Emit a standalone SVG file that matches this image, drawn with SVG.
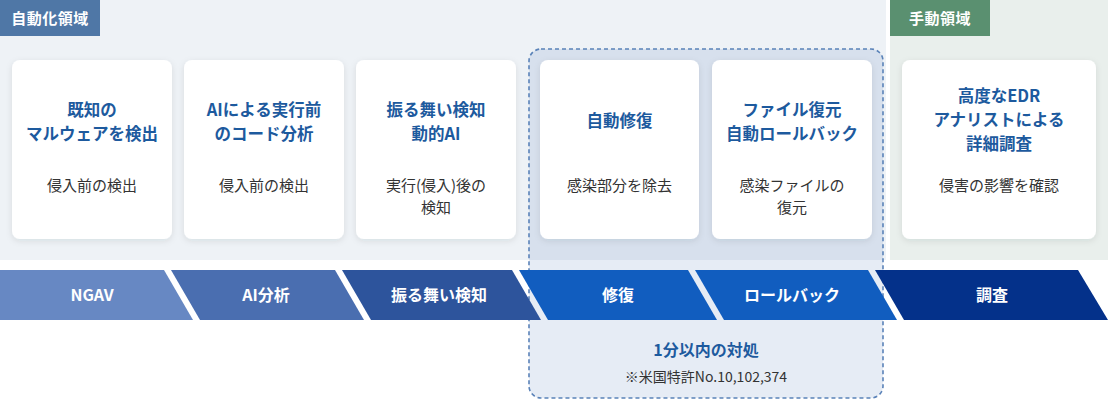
<svg xmlns="http://www.w3.org/2000/svg" width="1108" height="400" viewBox="0 0 1108 400">
<defs>
<filter id="sh" x="-10%" y="-10%" width="120%" height="125%">
<feDropShadow dx="0" dy="2" stdDeviation="3" flood-color="#1a2a40" flood-opacity="0.10"/>
</filter>
<style>
text{font-family:"Noto Sans CJK JP","Noto Sans",sans-serif;text-anchor:middle}
.card{fill:#ffffff;filter:url(#sh)}
.ttl{font-size:16.5px;font-weight:700;fill:#1d5a9e}
.sub{font-size:15px;font-weight:400;fill:#333333}
.bar{font-size:16px;font-weight:700;fill:#ffffff}
.lbl{font-size:15px;font-weight:700;fill:#ffffff;letter-spacing:0.5px}
</style>
</defs>
<rect width="1108" height="400" fill="#ffffff"/>
<g id="auto-area">
<rect x="0" y="0" width="886" height="260" fill="#eef2f6"/>
<rect x="0" y="0" width="100" height="36" fill="#4f77a6"/>
<text class="lbl" x="50" y="24">自動化領域</text>
</g>
<g id="manual-area">
<rect x="890" y="0" width="218" height="260" fill="#e9efec"/>
<rect x="890" y="0" width="100" height="36" fill="#5a9070"/>
<text class="lbl" x="940" y="24">手動領域</text>
</g>
<g id="auto-response-box">
<rect x="529" y="49" width="354" height="349" rx="12" fill="#2f64aa" fill-opacity="0.12" stroke="#5a82b8" stroke-width="1.6" stroke-dasharray="4 3"/>
<text class="ttl" x="706" y="356" style="font-size:16px">1分以内の対処</text>
<text class="sub" x="706" y="382" style="font-size:14px">※米国特許No.10,102,374</text>
</g>
<g id="card-ngav">
<rect class="card" x="12" y="60" width="160" height="179" rx="8"/>
<text class="ttl" x="92" y="116">既知の</text>
<text class="ttl" x="92" y="140">マルウェアを検出</text>
<text class="sub" x="92" y="191">侵入前の検出</text>
</g>
<g id="card-ai">
<rect class="card" x="184" y="60" width="160" height="179" rx="8"/>
<text class="ttl" x="264" y="116">AIによる実行前</text>
<text class="ttl" x="264" y="140">のコード分析</text>
<text class="sub" x="264" y="191">侵入前の検出</text>
</g>
<g id="card-behavior">
<rect class="card" x="356" y="60" width="160" height="179" rx="8"/>
<text class="ttl" x="436" y="116">振る舞い検知</text>
<text class="ttl" x="436" y="140">動的AI</text>
<text class="sub" x="436" y="191">実行(侵入)後の</text>
<text class="sub" x="436" y="213">検知</text>
</g>
<g id="card-repair">
<rect class="card" x="540" y="60" width="159" height="179" rx="8"/>
<text class="ttl" x="619.5" y="127">自動修復</text>
<text class="sub" x="619.5" y="191">感染部分を除去</text>
</g>
<g id="card-rollback">
<rect class="card" x="712" y="60" width="160" height="179" rx="8"/>
<text class="ttl" x="792" y="116">ファイル復元</text>
<text class="ttl" x="792" y="140">自動ロールバック</text>
<text class="sub" x="792" y="191">感染ファイルの</text>
<text class="sub" x="792" y="213">復元</text>
</g>
<g id="card-edr">
<rect class="card" x="902" y="60" width="194" height="179" rx="8"/>
<text class="ttl" x="999" y="102">高度なEDR</text>
<text class="ttl" x="999" y="126">アナリストによる</text>
<text class="ttl" x="999" y="150">詳細調査</text>
<text class="sub" x="999" y="191">侵害の影響を確認</text>
</g>
<g id="connectors">
<g id="step-ngav">
<polygon points="0,270 164,270 193,320 0,320" fill="#6788c3"/>
<text class="bar" x="92" y="301">NGAV</text>
</g>
<g id="step-ai">
<polygon points="171,270 335,270 364,320 200,320" fill="#4a6eb0"/>
<text class="bar" x="266" y="301">AI分析</text>
</g>
<g id="step-behavior">
<polygon points="342,270 512,270 541,320 371,320" fill="#2d549c"/>
<text class="bar" x="439" y="301">振る舞い検知</text>
</g>
<g id="step-repair">
<polygon points="519,270 688,270 717,320 548,320" fill="#115dbf"/>
<text class="bar" x="618" y="301">修復</text>
</g>
<g id="step-rollback">
<polygon points="695,270 868,270 897,320 724,320" fill="#115dbf"/>
<text class="bar" x="792" y="301">ロールバック</text>
</g>
<g id="step-investigate">
<polygon points="875,270 1078,270 1108,320 904,320" fill="#04318a"/>
<text class="bar" x="992" y="301">調査</text>
</g>
</g>
</svg>
